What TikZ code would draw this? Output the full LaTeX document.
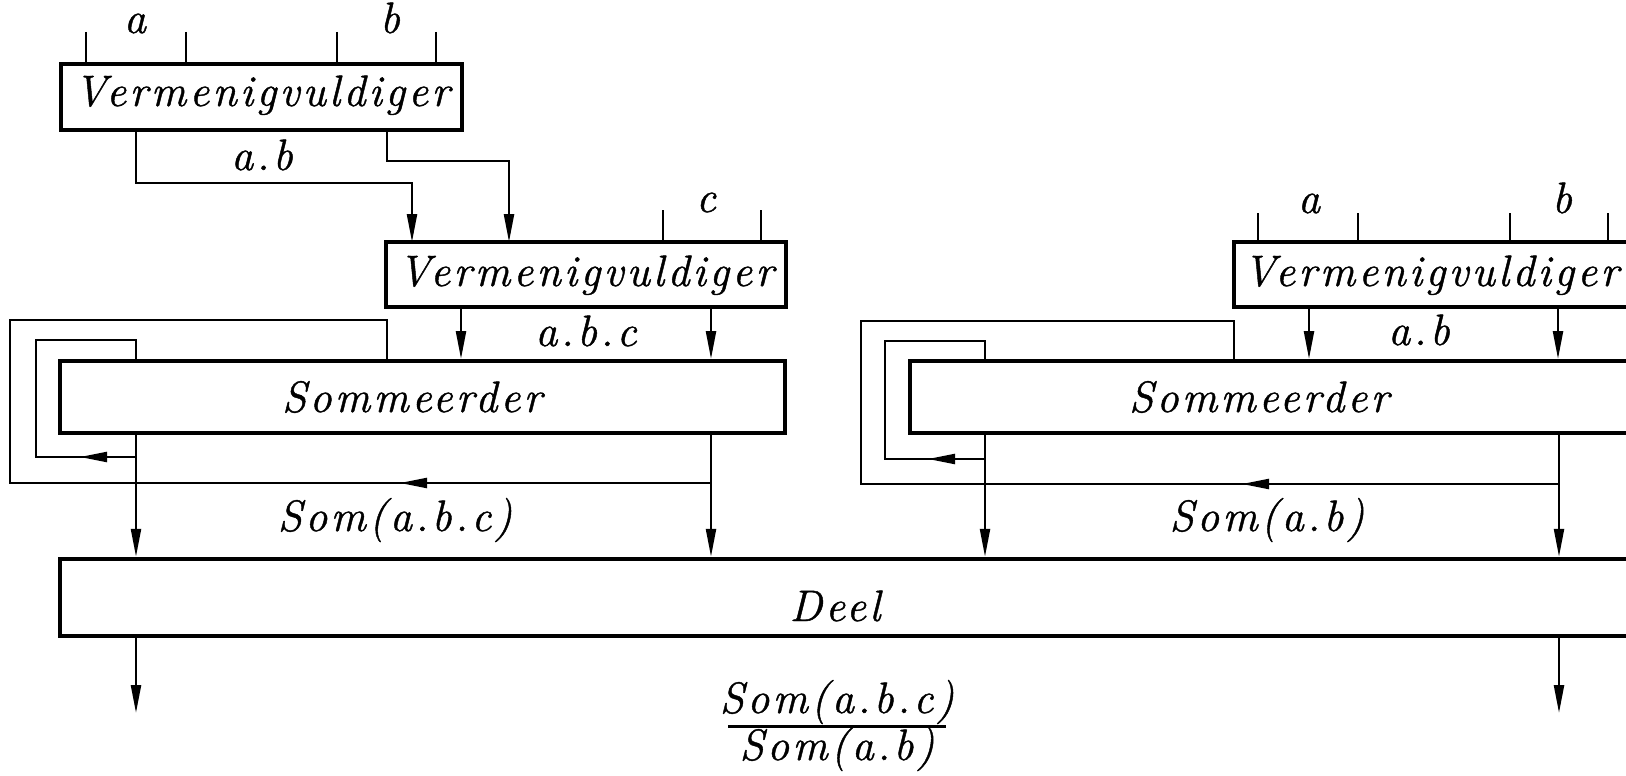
\documentclass[tikz,border=0pt]{standalone}
\usepackage{fontspec}
\setmainfont{Latin Modern Roman}
\newfontfamily\labfont[LetterSpace=7.5,FakeBold=1]{Latin Modern Roman}
\usetikzlibrary{arrows.meta,decorations.markings}
\begin{document}
\begin{tikzpicture}[x=1pt,y=-1pt,
  box/.style={draw, line width=4pt, inner sep=0pt},
  conn/.style={line width=2.3pt},
  arr/.style={conn, -{Triangle[length=28pt,width=10pt]}},
  lbl/.style={font=\fontsize{44}{48}\labfont\itshape, inner sep=0pt, anchor=base},
  fb/.style={conn, postaction={decorate}, decoration={markings, mark=at position #1 with {\arrow{Triangle[length=27pt,width=10pt]}}}},
]
\clip (0,0) rectangle (1626,776);
\fill[white] (0,0) rectangle (1626,776);

% boxes
\node[box, minimum width=401pt, minimum height=66pt] (m1) at (261.5,97) {};
\node[box, minimum width=400pt, minimum height=65pt] (m2) at (586,274.5) {};
\node[box, minimum width=400pt, minimum height=65pt] (m3) at (1434,274.5) {};
\node[box, minimum width=725pt, minimum height=72pt] (s1) at (422.5,397) {};
\node[box, minimum width=725pt, minimum height=72pt] (s2) at (1272.5,397) {};
\node[box, line width=4.5pt, minimum width=1580pt, minimum height=77pt] (d) at (850,597.5) {};

% box texts
\node[lbl] (m1t) at (262,106) {Vermenigvuldiger};
\node[lbl] (m2t) at (586,286) {Vermenigvuldiger};
\node[lbl] (m3t) at (1431,286) {Vermenigvuldiger};
\node[lbl] (s1t) at (412,412) {Sommeerder};
\node[lbl] (s2t) at (1259,412) {Sommeerder};
\node[lbl] (dt) at (835,621) {Deel};

% input ticks
\foreach \x/\n in {86/a1,186/a2,337/a3,436/a4}{
  \coordinate (t\n) at (\x,32);
  \draw[conn] (t\n) -- (t\n |- m1.north);
}
\foreach \x/\n in {663/c1,761/c2}{
  \coordinate (t\n) at (\x,210);
  \draw[conn] (t\n) -- (t\n |- m2.north);
}
\foreach \x/\n in {1258/r1,1358/r2,1510/r3,1608/r4}{
  \coordinate (t\n) at (\x,213);
  \draw[conn] (t\n) -- (t\n |- m3.north);
}

% input labels
\node[lbl] (la) at (135,33) {a};
\node[lbl] (lb) at (390,33) {b};
\node[lbl] (lc) at (706,212) {c};
\node[lbl] (lra) at (1309,213) {a};
\node[lbl] (lrb) at (1562,213) {b};

% top multiplier -> middle multiplier
\coordinate (m1o1) at (136,130);
\coordinate (m1o2) at (387,130);
\coordinate (m2i1) at (412,242);
\coordinate (m2i2) at (509,242);
\draw[arr] (m1o1) -- ++(0,53) -| (m2i1);
\draw[arr] (m1o2) -- ++(0,31) -| (m2i2);
\node[lbl] (lab1) at (262,170) {a.b};

% middle multiplier -> sommeerder
\coordinate (m2o1) at (461,307);
\coordinate (m2o2) at (711,307);
\draw[arr] (m2o1) -- (m2o1 |- s1.north);
\draw[arr] (m2o2) -- (m2o2 |- s1.north);
\node[lbl] (labc) at (586,346) {a.b.c};

% right multiplier -> sommeerder
\coordinate (m3o1) at (1309,307);
\coordinate (m3o2) at (1558,307);
\draw[arr] (m3o1) -- (m3o1 |- s2.north);
\draw[arr] (m3o2) -- (m3o2 |- s2.north);
\node[lbl] (lab2) at (1419,345) {a.b};

% sommeerder outputs -> deel
\coordinate (s1o1) at (136,433);
\coordinate (s1o2) at (711,433);
\coordinate (s2o1) at (985,433);
\coordinate (s2o2) at (1559,433);
\draw[arr] (s1o1) -- (s1o1 |- d.north);
\draw[arr] (s1o2) -- (s1o2 |- d.north);
\draw[arr] (s2o1) -- (s2o1 |- d.north);
\draw[arr] (s2o2) -- (s2o2 |- d.north);
\node[lbl] (lsabc) at (395,531) {Som(a.b.c)};
\node[lbl] (lsab) at (1267,531) {Som(a.b)};

% feedback loops left
\coordinate (j1) at (711,483);
\coordinate (f1) at (387,320);
\draw[fb=311pt] (j1) -- ++(-701,0) |- (f1) -- (f1 |- s1.north);
\coordinate (j2) at (136,457);
\coordinate (f2) at (136,340);
\draw[fb=56pt] (j2) -- ++(-100,0) |- (f2) -- (f2 |- s1.north);

% feedback loops right
\coordinate (j3) at (1559,484);
\coordinate (f3) at (1234,321);
\draw[fb=317pt] (j3) -- ++(-698,0) |- (f3) -- (f3 |- s2.north);
\coordinate (j4) at (985,459);
\coordinate (f4) at (985,341);
\draw[fb=57pt] (j4) -- ++(-100,0) |- (f4) -- (f4 |- s2.north);

% deel outputs
\coordinate (do1) at (136,636);
\coordinate (do2) at (1559,636);
\draw[arr] (do1) -- ++(0,77);
\draw[arr] (do2) -- ++(0,77);

% result fraction
\node[lbl] (num) at (837,713) {Som(a.b.c)};
\node[lbl] (den) at (837,760) {Som(a.b)};
\coordinate (fl) at (728,726);
\coordinate (fr) at (946,726);
\draw[line width=3pt] (fl) -- (fr);
\end{tikzpicture}
\end{document}
